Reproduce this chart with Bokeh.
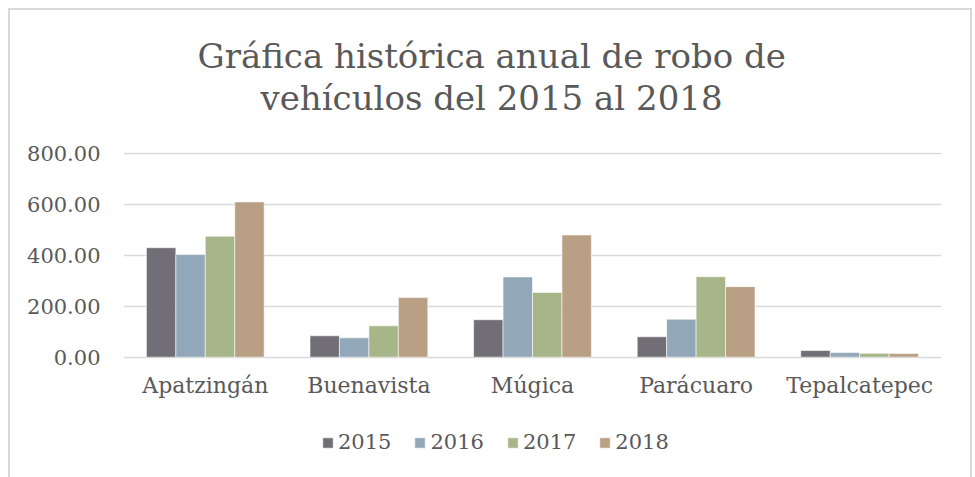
from bokeh.plotting import figure
from bokeh.models import (ColumnDataSource, FactorRange, Range1d, FixedTicker,
                          NumeralTickFormatter, Legend, LegendItem, Title)
from bokeh.transform import dodge
from bokeh.embed import file_html
from bokeh.resources import INLINE

towns = ["Apatzingán", "Buenavista", "Múgica", "Parácuaro", "Tepalcatepec"]
years = ["2015", "2016", "2017", "2018"]
v2015 = [430, 84, 147, 80, 26]
v2016 = [403, 76, 315, 149, 18]
v2017 = [475, 123, 254, 316, 15]
v2018 = [610, 234, 480, 277, 14]
y_ticks = [0, 200, 400, 600, 800]
colors = ["#716F75", "#92A8B8", "#A7B688", "#B9A085"]
title_lines = ["Gráfica histórica anual de robo de", "vehículos del 2015 al 2018"]

FONT = "DejaVu Serif"
TXT = "#595959"

source = ColumnDataSource(data=dict(town=towns, v2015=v2015, v2016=v2016,
                                    v2017=v2017, v2018=v2018))

# the frame extends below zero so the legend can sit inside it, under the x axis
p = figure(frame_width=818, frame_height=307,
           x_range=FactorRange(*towns, range_padding=0),
           y_range=Range1d(-402, 804), output_backend="svg", toolbar_location=None,
           min_border_left=113, min_border_right=29, min_border_top=142,
           min_border_bottom=18,
           styles={"margin-left": "8px", "margin-top": "8px",
                   "border-top": "2px solid #D9D9D9", "border-left": "2px solid #D9D9D9",
                   "border-right": "2px solid #D9D9D9"})

offsets = [-0.27, -0.09, 0.09, 0.27]
cols = ["v2015", "v2016", "v2017", "v2018"]
items = []
for yr, col, off, c in zip(years, cols, offsets, colors):
    r = p.vbar(x=dodge("town", off, range=p.x_range), top=col, width=0.18, bottom=0,
               source=source, fill_color=c, line_color="white", line_width=0.8,
               line_alpha=0.7)
    items.append(LegendItem(label=yr, renderers=[r]))

p.outline_line_color = None
p.xgrid.grid_line_color = None
p.ygrid.grid_line_color = "#D9D9D9"
p.ygrid.grid_line_width = 1.5
p.yaxis.ticker = FixedTicker(ticks=y_ticks)
p.yaxis.formatter = NumeralTickFormatter(format="0.00")
p.xaxis.fixed_location = 0
for ax in (p.xaxis[0], p.yaxis[0]):
    ax.axis_line_color = None
    ax.major_tick_line_color = None
    ax.minor_tick_line_color = None
    ax.major_tick_out = 0
    ax.major_tick_in = 0
    ax.major_label_text_font = FONT
    ax.major_label_text_color = TXT
p.yaxis.major_label_text_font_size = "21px"
p.yaxis.major_label_standoff = 23
p.xaxis.major_label_text_font_size = "22px"
p.xaxis.major_label_standoff = 16

legend = Legend(items=items, orientation="horizontal", location=(198, 5),
                glyph_width=13, glyph_height=13, label_standoff=4, spacing=22,
                padding=0, margin=0, border_line_color=None, background_fill_alpha=0,
                label_text_font=FONT, label_text_font_size="21px",
                label_text_color=TXT)
p.add_layout(legend, "center")

spacer = Title(text=" ", text_font=FONT, text_font_size="10px", standoff=22)
t2 = Title(text=title_lines[1], text_font=FONT, text_font_size="34px",
           text_font_style="normal", text_color=TXT, align="left", offset=137,
           standoff=0)
t1 = Title(text=title_lines[0], text_font=FONT, text_font_size="34px",
           text_font_style="normal", text_color=TXT, align="left", offset=74,
           standoff=0)
p.add_layout(spacer, "above")
p.add_layout(t2, "above")
p.add_layout(t1, "above")

open("out.html", "w").write(file_html(p, INLINE))
